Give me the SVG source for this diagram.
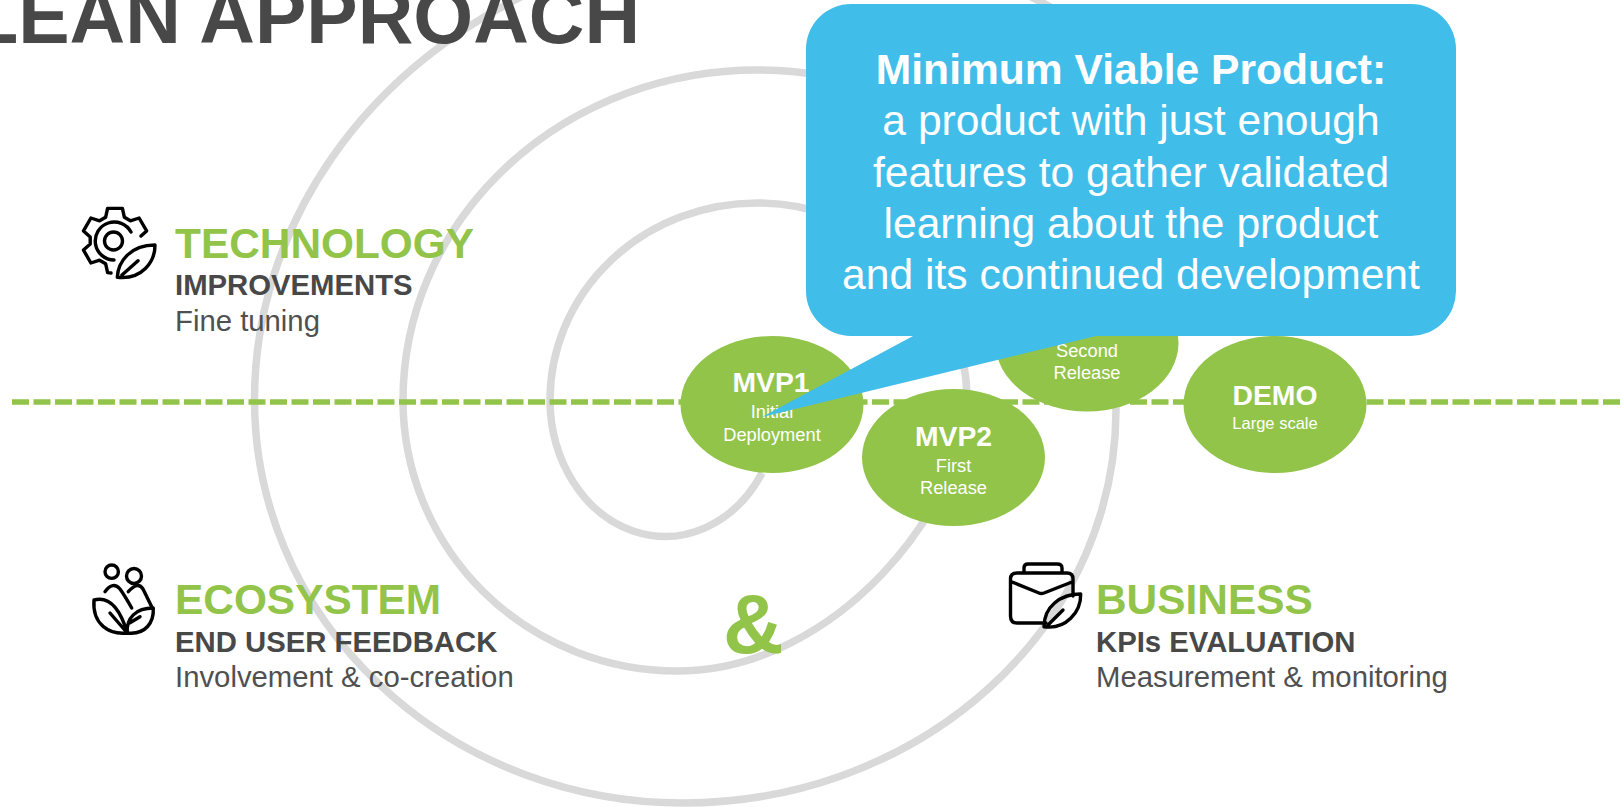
<svg xmlns="http://www.w3.org/2000/svg" width="1621" height="807" viewBox="0 0 1621 807">
<style>
text{font-family:"Liberation Sans",Arial,sans-serif}
.h{font-size:42.400px;font-weight:700;fill:#92c44a}
.s{font-size:29.300px;font-weight:700;fill:#484848}
.d{font-size:29.300px;fill:#505050}
.n{fill:#92c44a}
.t{font-size:28.300px;font-weight:700;fill:#fff;text-anchor:middle}
.u{font-size:18.300px;fill:#fff;text-anchor:middle}
.c{font-size:42.600px;fill:#fff;text-anchor:middle}
.i{fill:none;stroke:#000;stroke-width:3.400;stroke-linecap:round;stroke-linejoin:round}
</style>
<g id="connectors">
<path id="spiral" d="M762 473A115 137 0 0 1 550 400A207 197 0 0 1 757 203A210 197 0 0 1 967 395C967 505 837 671 677 671A274 271 0 0 1 403 400A354 330 0 0 1 757 70A359 340 0 0 1 1116 410A433 393 0 0 1 683 803A428.500 403 0 0 1 254.500 400A521.500 462 0 0 1 1090 31" fill="none" stroke="#d9d9d9" stroke-width="7.500"/>
<path id="axis" d="M12 402H1621" fill="none" stroke="#92c44a" stroke-width="5.500" stroke-dasharray="17 4.500"/>
</g>
<g id="title"><text x="640" y="43" font-size="77" font-weight="700" fill="#484848" text-anchor="end">LEAN APPROACH</text></g>
<g id="mvp3"><ellipse class="n" cx="1087" cy="343" rx="91.500" ry="68.500"/><text class="u" x="1087" y="357">Second</text><text class="u" x="1087" y="379">Release</text></g>
<g id="demo"><ellipse class="n" cx="1275" cy="404.500" rx="91.500" ry="68.500"/><text class="t" x="1275" y="405">DEMO</text><text class="u" x="1275" y="429" style="font-size:16.500px">Large scale</text></g>
<g id="mvp2"><ellipse class="n" cx="953.500" cy="457.500" rx="91.500" ry="68.500"/><text class="t" x="953.500" y="446">MVP2</text><text class="u" x="953.500" y="472">First</text><text class="u" x="953.500" y="494">Release</text></g>
<g id="mvp1"><ellipse class="n" cx="772" cy="404.500" rx="91.500" ry="68.500"/><text class="t" x="771" y="392">MVP1</text><text class="u" x="772" y="418">Initial</text><text class="u" x="772" y="441">Deployment</text></g>
<g id="callout">
<path d="M851 4H1411A45 45 0 0 1 1456 49V291A45 45 0 0 1 1411 336H1096L762 417L913 336H851A45 45 0 0 1 806 291V49A45 45 0 0 1 851 4Z" fill="#41bdea"/>
<text class="c" x="1131" y="84" font-weight="700">Minimum Viable Product:</text>
<text class="c" x="1131" y="135">a product with just enough</text>
<text class="c" x="1131" y="187">features to gather validated</text>
<text class="c" x="1131" y="238">learning about the product</text>
<text class="c" x="1131" y="289">and its continued development</text>
</g>
<g id="technology">
<path class="i" d="M111 273L107.600 272.600L105.600 263.700L99.600 260.200L90.900 263L83.500 250.100L90.200 244L90.200 237L83.500 230.900L90.900 218L99.600 220.800L105.600 217.300L107.600 208.400L122.400 208.400L124.400 217.300L130.400 220.800L139.100 218L146.600 230.900L141 236"/>
<path class="i" d="M131 232A19 19 0 1 0 114 260"/>
<circle class="i" cx="113.500" cy="241" r="9"/>
<path class="i" d="M117.300 277.300C118 262 130 245 155 245C155 262 142 280 117.300 277.300ZM122 275L138 260.700"/>
<text class="h" x="175" y="258">TECHNOLOGY</text><text class="s" x="175" y="295">IMPROVEMENTS</text><text class="d" x="175" y="331">Fine tuning</text>
</g>
<g id="ecosystem">
<circle class="i" cx="111.700" cy="571.700" r="6.700"/><circle class="i" cx="134" cy="576" r="7.500"/>
<path class="i" d="M105 591.700Q113 581 120 589Q125 596 131.700 608M128.300 591.700Q138 581 143 589L151.700 606.700"/>
<path class="i" d="M94 600C113 595 122 615 127.300 633C110 635 92 625 94 600ZM110 613L127.300 633M127.300 633C146 635 154 622 153.300 608C136 608 126 618 127.300 633ZM130 622.700L140 616.700"/>
<text class="h" x="175" y="614">ECOSYSTEM</text><text class="s" x="175" y="652">END USER FEEDBACK</text><text class="d" x="175" y="687">Involvement &amp; co-creation</text>
</g>
<g id="amp"><text x="723" y="653" font-size="84" font-weight="700" fill="#92c44a">&amp;</text></g>
<g id="business">
<path class="i" d="M1024 572V568Q1024 564 1028 564H1057Q1062 564 1062 568V572"/>
<path class="i" d="M1046 623H1017Q1010.500 623 1010.500 616V579Q1010.500 573 1017 573H1067Q1073 573 1073 579V596M1012 582L1039 593Q1041 594 1044 593L1072 582"/>
<path class="i" d="M1044 626.700C1044 607 1060 594 1080.700 594C1081 612 1066 630 1044 626.700ZM1048 625L1063 610"/>
<text class="h" x="1096" y="614">BUSINESS</text><text class="s" x="1096" y="652">KPIs EVALUATION</text><text class="d" x="1096" y="687">Measurement &amp; monitoring</text>
</g>
</svg>
